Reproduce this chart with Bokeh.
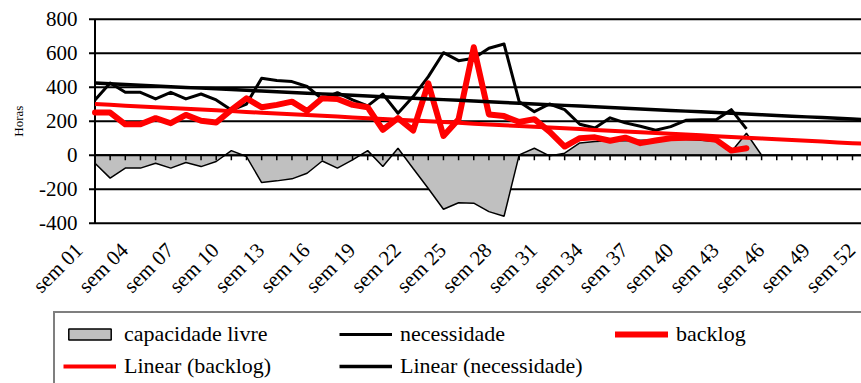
import math
import numpy as np
from bokeh.plotting import figure
from bokeh.models import Range1d, Legend, LegendItem
from bokeh.core.properties import value
from bokeh.embed import file_html
from bokeh.resources import INLINE

# ---------------- data ----------------
weeks = ["sem %02d" % i for i in range(1, 53)]
week_num = list(range(1, 53))
label_weeks = [1, 4, 7, 10, 13, 16, 19, 22, 25, 28, 31, 34, 37, 40, 43, 46, 49, 52]

necessidade = [325, 425, 370, 370, 331, 370, 331, 360, 325, 266,
               301, 453, 440, 433, 404, 330, 368, 325, 290, 359,
               247, 345, 462, 603, 556, 570, 629, 654, 315, 256,
               301, 268, 182, 160, 220, 190, 170, 147, 168, 205,
               208, 208, 268, 155]

backlog = [251, 251, 182, 182, 218, 188, 237, 203, 192, 266,
           335, 282, 296, 315, 260, 335, 331, 296, 282, 149,
           218, 145, 423, 113, 212, 635, 240, 230, 195, 212,
           139, 51, 100, 105, 85, 103, 71, 86, 100, 103,
           103, 90, 27, 41]

capacidade_livre = [-47, -135, -76, -76, -47, -76, -43, -67, -37, 27,
                    -8, -161, -151, -139, -106, -34, -76, -28, 27, -67,
                    41, -78, -196, -318, -280, -282, -332, -359, 2, 41,
                    -4, 12, 72, 80, 85, 85, 88, 90, 92, 92,
                    88, 80, 20, 129, 0]

y_ticks = [-400, -200, 0, 200, 400, 600, 800]
y_tick_labels = ["-400", "-200", "0", "200", "400", "600", "800"]

FONT = "Liberation Serif"
RED = "#FF0000"
GREY = "#C0C0C0"

# ---------------- layout constants (pixels) ----------------
W, H = 861, 383
PX_X = 15.15          # pixels per week
W1_PX = 94.5          # pixel column of week 1 (value axis)
PX_Y = 0.170          # pixels per hour
TOP_PX = 18.7         # pixel row of the top of the value axis

y_min, y_max = y_ticks[0], y_ticks[-1]
x0 = week_num[0] - W1_PX / PX_X
x1 = x0 + W / PX_X
y1 = y_max + TOP_PX / PX_Y
y0 = y1 - H / PX_Y

p = figure(width=W, height=H, output_backend="svg", toolbar_location=None,
           x_range=Range1d(x0, x1), y_range=Range1d(y0, y1),
           x_axis_location=None, y_axis_location=None,
           min_border_left=0, min_border_right=0, min_border_top=0,
           min_border_bottom=0, outline_line_color=None,
           background_fill_color="white", border_fill_color="white")
p.grid.visible = False

first, last = week_num[0], week_num[-1]
n_ticks = len(y_ticks)

# horizontal grid lines
p.segment(x0=[first] * n_ticks, y0=y_ticks, x1=[last] * n_ticks, y1=y_ticks,
          line_color="black", line_width=2)

# ---------------- series ----------------
n_cap = len(capacidade_livre)
cap_x = [first] + week_num[:n_cap]
cap_y = [0] + capacidade_livre
r_cap = p.patch(cap_x, cap_y, fill_color=GREY, line_color="black", line_width=1.5)

# category axis at zero with its tick marks (5 px long)
tick_len = 5 / PX_Y
p.segment(x0=[first], y0=[0], x1=[last], y1=[0], line_color="black", line_width=2)
p.segment(x0=week_num, y0=[0] * len(week_num), x1=week_num,
          y1=[-tick_len] * len(week_num), line_color="black", line_width=1.5)

# value axis line and its outward tick marks (6 px long)
tick_w = 6 / PX_X
p.segment(x0=[first], y0=[y_min], x1=[first], y1=[y_max], line_color="black", line_width=2)
p.segment(x0=[first - tick_w] * n_ticks, y0=y_ticks, x1=[first] * n_ticks,
          y1=y_ticks, line_color="black", line_width=2)

n_nec = len(necessidade)
r_nec = p.line(week_num[:n_nec], necessidade, line_color="black", line_width=3,
               line_join="round")
n_back = len(backlog)
r_back = p.line(week_num[:n_back], backlog, line_color=RED, line_width=6,
                line_join="round", line_cap="round")

# linear trendlines (least squares, projected to the last week)
cb = np.polyfit(week_num[:n_back], backlog, 1)
cn = np.polyfit(week_num[:n_nec], necessidade, 1)
r_tb = p.line(week_num, np.polyval(cb, week_num), line_color=RED, line_width=4)
r_tn = p.line(week_num, np.polyval(cn, week_num), line_color="black", line_width=3.5)

# ---------------- axis texts ----------------
# value-axis labels, right aligned 17 px left of the axis
p.text(x=[first - 17.5 / PX_X] * n_ticks, y=y_ticks, text=y_tick_labels,
       text_align="right", text_baseline="middle", text_font=value(FONT),
       text_font_size="21px", text_color="black")
# axis title
p.text(x=[first - 76.5 / PX_X], y=[(y_min + y_max) / 2], text=["Horas"],
       angle=math.pi / 2, text_align="center", text_baseline="middle",
       text_font=value(FONT), text_font_size="13px", text_color="black")
# slanted week labels, ending just left of their category
lab_dx = 24.5 / PX_X
lab_dy = 15 / PX_Y
p.text(x=[w - lab_dx for w in label_weeks], y=[y_min - lab_dy] * len(label_weeks),
       text=[weeks[w - 1] for w in label_weeks], angle=math.pi / 4,
       text_align="right", text_baseline="top", text_font=value(FONT),
       text_font_size="21px", text_color="black")

# ---------------- legend ----------------
legend = Legend(items=[
    LegendItem(label="capacidade livre", renderers=[r_cap]),
    LegendItem(label="necessidade", renderers=[r_nec]),
    LegendItem(label="backlog", renderers=[r_back]),
    LegendItem(label="Linear (backlog)", renderers=[r_tb]),
    LegendItem(label="Linear (necessidade)", renderers=[r_tn]),
], orientation="horizontal", ncols=3, location=(53, -6),
    border_line_color="black", border_line_width=2,
    background_fill_color="white", background_fill_alpha=1,
    label_text_font=FONT, label_text_font_size="22px", label_text_color="black",
    glyph_width=53, glyph_height=14, label_standoff=8, spacing=6,
    label_width=209, padding=8, margin=0)
p.add_layout(legend)

open("out.html", "w").write(file_html(p, INLINE))
